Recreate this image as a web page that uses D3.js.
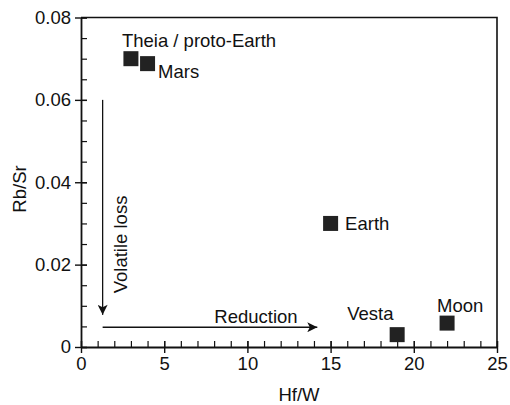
<!DOCTYPE html>
<html>
<head>
<meta charset="utf-8">
<script src="https://cdn.jsdelivr.net/npm/d3@7"></script>
<style>
  body { margin: 0; background: #fff; }
  text { font-family: "Liberation Sans", Helvetica, Arial, sans-serif; fill: #111; }
</style>
</head>
<body>
<svg id="chart" width="510" height="405"></svg>
<script>
// Bodies plotted on the Hf/W vs Rb/Sr diagram
const bodies = ['Theia / proto-Earth', 'Mars', 'Earth', 'Vesta', 'Moon'];
const hfW = [3, 4, 15, 19, 22];
const rbSr = [0.070, 0.0688, 0.030, 0.003, 0.0058];

// Tick labels
const xTicks = [0, 5, 10, 15, 20, 25];
const yTicks = [0, 0.02, 0.04, 0.06, 0.08];

// Process arrows (data units)
const volatileArrow = [[1.3, 0.060], [1.3, 0.0078]];
const reductionArrow = [[1.3, 0.0048], [14.2, 0.0048]];

const fs = 18.5;
const svg = d3.select('#chart');
const margin = { left: 81, right: 13, top: 17.5, bottom: 58 };
const width = 510 - margin.left - margin.right;
const height = 405 - margin.top - margin.bottom;

const x = d3.scaleLinear().domain([0, 25]).range([0, width]);
const y = d3.scaleLinear().domain([0, 0.08]).range([height, 0]);

const chart = svg.append('g')
  .attr('transform', `translate(${margin.left}, ${margin.top})`);

// Frame (top and right)
chart.append('path')
  .attr('d', `M0,0H${width}V${height}`)
  .attr('fill', 'none')
  .attr('stroke', '#111')
  .attr('stroke-width', 1.6);

// Minor ticks
chart.append('g')
  .attr('transform', `translate(0, ${height})`)
  .call(d3.axisBottom(x).ticks(25).tickSize(-6).tickFormat(''))
  .call(g => g.select('.domain').remove())
  .call(g => g.selectAll('line').attr('stroke', '#111').attr('stroke-width', 1.2));
chart.append('g')
  .call(d3.axisLeft(y).tickValues(d3.range(0, 0.0801, 0.005)).tickSize(-6).tickFormat(''))
  .call(g => g.select('.domain').remove())
  .call(g => g.selectAll('line').attr('stroke', '#111').attr('stroke-width', 1.2));

// Major axes: ticks both sides of the axis line
const xAxis = chart.append('g')
  .attr('transform', `translate(0, ${height})`)
  .call(d3.axisBottom(x).tickValues(xTicks).tickSizeInner(6).tickSizeOuter(0).tickPadding(4));
xAxis.selectAll('line').attr('y1', -6).attr('y2', 6);
xAxis.select('.domain').attr('stroke-width', 1.8).attr('stroke', '#111');
xAxis.selectAll('line').attr('stroke', '#111').attr('stroke-width', 1.4);
xAxis.selectAll('text').attr('font-size', fs).attr('dy', '0.71em').attr('y', 10);

const yAxis = chart.append('g')
  .call(d3.axisLeft(y).tickValues(yTicks).tickFormat(d => d === 0 ? '0' : d3.format('.2f')(d))
    .tickSizeInner(6).tickSizeOuter(0).tickPadding(4));
yAxis.selectAll('line').attr('x1', -6).attr('x2', 6);
yAxis.select('.domain').attr('stroke-width', 1.8).attr('stroke', '#111');
yAxis.selectAll('line').attr('stroke', '#111').attr('stroke-width', 1.4);
yAxis.selectAll('text').attr('font-size', fs).attr('x', -10);

// Axis titles
svg.append('text')
  .attr('x', 299)
  .attr('y', 401)
  .attr('text-anchor', 'middle')
  .attr('font-size', fs)
  .text('Hf/W');
svg.append('text')
  .attr('transform', 'translate(26, 189) rotate(-90)')
  .attr('text-anchor', 'middle')
  .attr('font-size', fs)
  .text('Rb/Sr');

// Arrow head
svg.append('defs').append('marker')
  .attr('id', 'head')
  .attr('viewBox', '0 0 10 10')
  .attr('refX', 10).attr('refY', 5)
  .attr('markerWidth', 11).attr('markerHeight', 10)
  .attr('markerUnits', 'userSpaceOnUse')
  .attr('orient', 'auto')
  .append('path')
  .attr('d', 'M0,0 L10,5 L0,10 L2.5,5 Z')
  .attr('fill', '#111');

const line = d3.line().x(d => x(d[0])).y(d => y(d[1]));
[volatileArrow, reductionArrow].forEach(a => {
  chart.append('path')
    .attr('d', line(a))
    .attr('stroke', '#111')
    .attr('stroke-width', 1.3)
    .attr('fill', 'none')
    .attr('marker-end', 'url(#head)');
});

chart.append('text')
  .attr('transform', `translate(${x(1.3) + 24}, ${y(0.0249)}) rotate(-90)`)
  .attr('text-anchor', 'middle')
  .attr('font-size', fs)
  .text('Volatile loss');
chart.append('text')
  .attr('x', 256 - margin.left)
  .attr('y', y(0.0048) - 4)
  .attr('text-anchor', 'middle')
  .attr('font-size', fs)
  .text('Reduction');

// Points
const size = 15;
chart.selectAll('rect.pt')
  .data(bodies)
  .enter()
  .append('rect')
    .attr('class', 'pt')
    .attr('x', (d, i) => x(hfW[i]) - size / 2)
    .attr('y', (d, i) => y(rbSr[i]) - size / 2)
    .attr('width', size)
    .attr('height', size)
    .attr('fill', '#222');

// Point labels (offsets in pixels)
const labelDx = [-9, 10.5, 14.5, -50, -10];
const labelDy = [-11.5, 14.5, 6.5, -14.5, -11];
chart.selectAll('text.lbl')
  .data(bodies)
  .enter()
  .append('text')
    .attr('class', 'lbl')
    .attr('x', (d, i) => x(hfW[i]) + labelDx[i])
    .attr('y', (d, i) => y(rbSr[i]) + labelDy[i])
    .attr('font-size', fs)
    .text(d => d);
</script>
</body>
</html>
